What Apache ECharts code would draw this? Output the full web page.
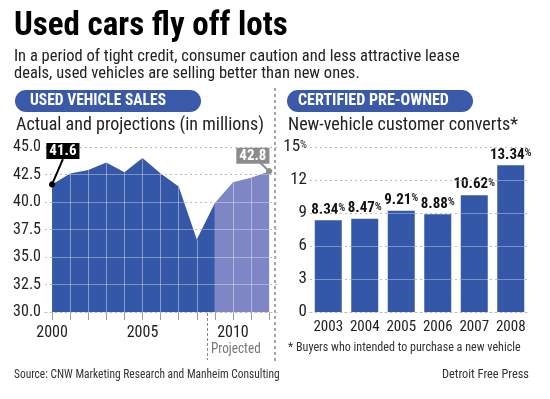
<!DOCTYPE html>
<html>
<head>
<meta charset="utf-8">
<script src="https://cdn.jsdelivr.net/npm/echarts@6/dist/echarts.min.js"></script>
<style>
  html, body { margin: 0; padding: 0; background: #fff; }
  #chart { width: 550px; height: 399px; }
</style>
</head>
<body>
<div id="chart"></div>
<script>
    var fontFamily = '"Roboto Condensed", "Open Sans Condensed", "DejaVu Sans Condensed", sans-serif';

    // used vehicle sales, millions
    var actualYears = [2000, 2001, 2002, 2003, 2004, 2005, 2006, 2007, 2008, 2009];
    var actualSales = [41.6, 42.6, 42.9, 43.6, 42.7, 44.0, 42.6, 41.4, 36.6, 39.9];
    var projYears = [2009, 2010, 2011, 2012];
    var projSales = [39.9, 41.8, 42.2, 42.8];
    var salesLabels = [2000, 2005, 2010];

    // certified pre-owned, % of new-vehicle customers
    var cpoYears = ['2003', '2004', '2005', '2006', '2007', '2008'];
    var cpoShare = [8.34, 8.47, 9.21, 8.88, 10.62, 13.34];

    var blue = '#3557a7';
    var lightBlue = '#7e86c5';
    var gridGray = '#9a9a9a';

    function pairs(xs, ys) {
        return xs.map(function (x, i) { return [x, ys[i]]; });
    }

    // white year lines inside the filled area
    function yearLines(xs, ys) {
        return xs.map(function (x, i) {
            return [{ coord: [x, 30] }, { coord: [x, ys[i]] }];
        });
    }

    // graphic text, anchored at x (left, or right when align is set), squeezed by sx
    function text(x, y, str, font, color, sx, align) {
        return {
            type: 'text', x: x, y: y, scaleX: sx || 1,
            style: {
                text: str, fill: color, font: font + ' ' + fontFamily,
                verticalAlign: 'middle', align: align || 'left'
            }
        };
    }

    var allYears = actualYears.concat(projYears.slice(1));

    var chart = echarts.init(document.getElementById('chart'));

    var option = {
        animation: false,
        backgroundColor: '#fff',
        textStyle: { fontFamily: fontFamily },
        grid: [
            { left: 45, right: 270, top: 147, bottom: 87 },
            { left: 310, right: 21, top: 147, bottom: 87 }
        ],
        xAxis: [{
            type: 'value', gridIndex: 0,
            min: 1999.61, max: 2012.6,
            axisLine: { show: true, lineStyle: { color: gridGray, type: [2, 3] } },
            axisTick: {
                show: true, length: 8, inside: false,
                customValues: allYears,
                lineStyle: { color: gridGray }
            },
            axisLabel: {
                customValues: salesLabels, margin: 13,
                color: '#222', fontSize: 16, fontFamily: fontFamily,
                formatter: function (v) { return String(v); }
            },
            splitLine: { show: false }
        }, {
            type: 'category', gridIndex: 1,
            data: cpoYears,
            axisLine: { show: true, lineStyle: { color: gridGray, type: [2, 3] } },
            axisTick: { show: false },
            axisLabel: { interval: 0, margin: 8, color: '#222', fontSize: 15, fontFamily: fontFamily },
            splitLine: { show: false }
        }],
        yAxis: [{
            type: 'value', gridIndex: 0,
            min: 30, max: 45, interval: 2.5,
            axisLine: { show: false }, axisTick: { show: false },
            axisLabel: {
                margin: 4, color: '#222', fontSize: 16, fontFamily: fontFamily,
                formatter: function (v) { return v.toFixed(1); }
            },
            splitLine: { lineStyle: { color: gridGray, type: [2, 3] } }
        }, {
            // light grid over the area
            type: 'value', gridIndex: 0, z: 5,
            min: 30, max: 45, interval: 2.5,
            axisLine: { show: false }, axisTick: { show: false }, axisLabel: { show: false },
            splitLine: { lineStyle: { color: 'rgba(255,255,255,0.35)', width: 1 } }
        }, {
            type: 'value', gridIndex: 1,
            min: 0, max: 15, interval: 3,
            axisLine: { show: false }, axisTick: { show: false },
            axisLabel: {
                margin: 3, color: '#222', fontSize: 17, fontFamily: fontFamily,
                formatter: function (v) { return v === 15 ? '15{p|%}' : String(v); },
                rich: { p: { fontSize: 11, color: '#222', fontFamily: fontFamily, padding: [0, 0, 4, 0] } }
            },
            splitLine: { lineStyle: { color: gridGray, type: [2, 3] } }
        }, {
            type: 'value', gridIndex: 1, z: 5,
            min: 0, max: 15, interval: 3,
            axisLine: { show: false }, axisTick: { show: false }, axisLabel: { show: false },
            splitLine: { lineStyle: { color: 'rgba(255,255,255,0.35)', width: 1 } }
        }],
        series: [{
            name: 'Actual',
            type: 'line', xAxisIndex: 0, yAxisIndex: 0,
            data: pairs(actualYears, actualSales),
            showSymbol: false,
            lineStyle: { width: 0 },
            areaStyle: { color: blue, opacity: 1, origin: 'start' },
            markLine: {
                silent: true, animation: false,
                symbol: ['none', 'none'],
                label: { show: false },
                lineStyle: { color: 'rgba(255,255,255,0.4)', type: 'solid', width: 1 },
                data: yearLines(actualYears.slice(1, -1), actualSales.slice(1, -1))
            }
        }, {
            name: 'Projected',
            type: 'line', xAxisIndex: 0, yAxisIndex: 0,
            data: pairs(projYears, projSales),
            showSymbol: false,
            lineStyle: { width: 0 },
            areaStyle: { color: lightBlue, opacity: 1, origin: 'start' },
            markLine: {
                silent: true, animation: false,
                symbol: ['none', 'none'],
                label: { show: false },
                lineStyle: { color: 'rgba(255,255,255,0.4)', type: 'solid', width: 1 },
                data: yearLines(projYears.slice(1, -1), projSales.slice(1, -1))
            }
        }, {
            // callouts for first and last values
            name: 'callouts',
            type: 'line', xAxisIndex: 0, yAxisIndex: 0, z: 6,
            data: [],
            markLine: {
                silent: true, animation: false,
                symbol: ['circle', 'none'], symbolSize: 6,
                data: [
                    [{
                        coord: [actualYears[0], actualSales[0]],
                        lineStyle: { color: '#000', width: 2, type: 'solid' },
                        itemStyle: { color: '#000' },
                        label: {
                            show: true, position: 'end', distance: 0,
                            formatter: String(actualSales[0]),
                            color: '#fff', backgroundColor: '#000',
                            fontSize: 15, fontWeight: 'bold', fontFamily: fontFamily,
                            padding: [1, 3, 0, 3]
                        }
                    }, { coord: [2000.6, 43.9] }],
                    [{
                        coord: [projYears[projYears.length - 1], projSales[projSales.length - 1]],
                        lineStyle: { color: '#8c8c8c', width: 2, type: 'solid' },
                        itemStyle: { color: '#8c8c8c' },
                        label: {
                            show: true, position: 'end', distance: 0,
                            formatter: String(projSales[projSales.length - 1]),
                            color: '#fff', backgroundColor: '#8c8c8c',
                            fontSize: 15, fontWeight: 'bold', fontFamily: fontFamily,
                            padding: [1, 3, 0, 3]
                        }
                    }, { coord: [2011.1, 44.2] }]
                ]
            }
        }, {
            name: 'CPO',
            type: 'bar', xAxisIndex: 1, yAxisIndex: 2,
            data: cpoShare,
            barWidth: 27,
            itemStyle: { color: blue },
            label: {
                show: true, position: 'top', distance: 3,
                formatter: function (p) { return p.value.toFixed(2) + '{p|%}'; },
                color: '#111', fontSize: 15, fontWeight: 'bold', fontFamily: fontFamily,
                rich: { p: { fontSize: 11, color: '#333', fontFamily: fontFamily, padding: [0, 0, 3, 0] } }
            }
        }],
        graphic: [
            text(14, 27, 'Used cars fly off lots', 'bold 33px', '#000'),
            text(14, 57, 'In a period of tight credit, consumer caution and less attractive lease', '17px', '#222', 0.97),
            text(14, 74, 'deals, used vehicles are selling better than new ones.', '17px', '#222', 0.97),
            // panel headers
            { type: 'rect', shape: { x: 15, y: 90, width: 186, height: 22, r: 11 }, style: { fill: '#3a5aa9' } },
            text(30, 101, 'USED VEHICLE SALES', 'bold 16px', '#fff', 0.97),
            text(16, 125, 'Actual and projections (in millions)', '18px', '#222'),
            { type: 'rect', shape: { x: 287, y: 90, width: 186, height: 22, r: 11 }, style: { fill: '#3a5aa9' } },
            text(298, 101, 'CERTIFIED PRE-OWNED', 'bold 16px', '#fff'),
            text(288, 125, 'New-vehicle customer converts*', '18px', '#222'),
            // panel divider
            {
                type: 'line', shape: { x1: 275, y1: 88, x2: 275, y2: 362 },
                style: { stroke: '#888', lineWidth: 1.5, lineDash: [3, 3] }
            },
            // projected marker
            {
                type: 'line', shape: { x1: 207.5, y1: 313, x2: 207.5, y2: 360 },
                style: { stroke: '#888', lineWidth: 1, lineDash: [3, 2] }
            },
            text(211, 349, 'Projected', '15px', '#777', 0.88),
            text(288, 348, '* Buyers who intended to purchase a new vehicle', '13px', '#333', 0.93),
            text(14, 375, 'Source: CNW Marketing Research and Manheim Consulting', '13px', '#333', 0.88),
            text(529, 375, 'Detroit Free Press', '13px', '#333', 0.95, 'right')
        ]
    };

    chart.setOption(option);
</script>
</body>
</html>
